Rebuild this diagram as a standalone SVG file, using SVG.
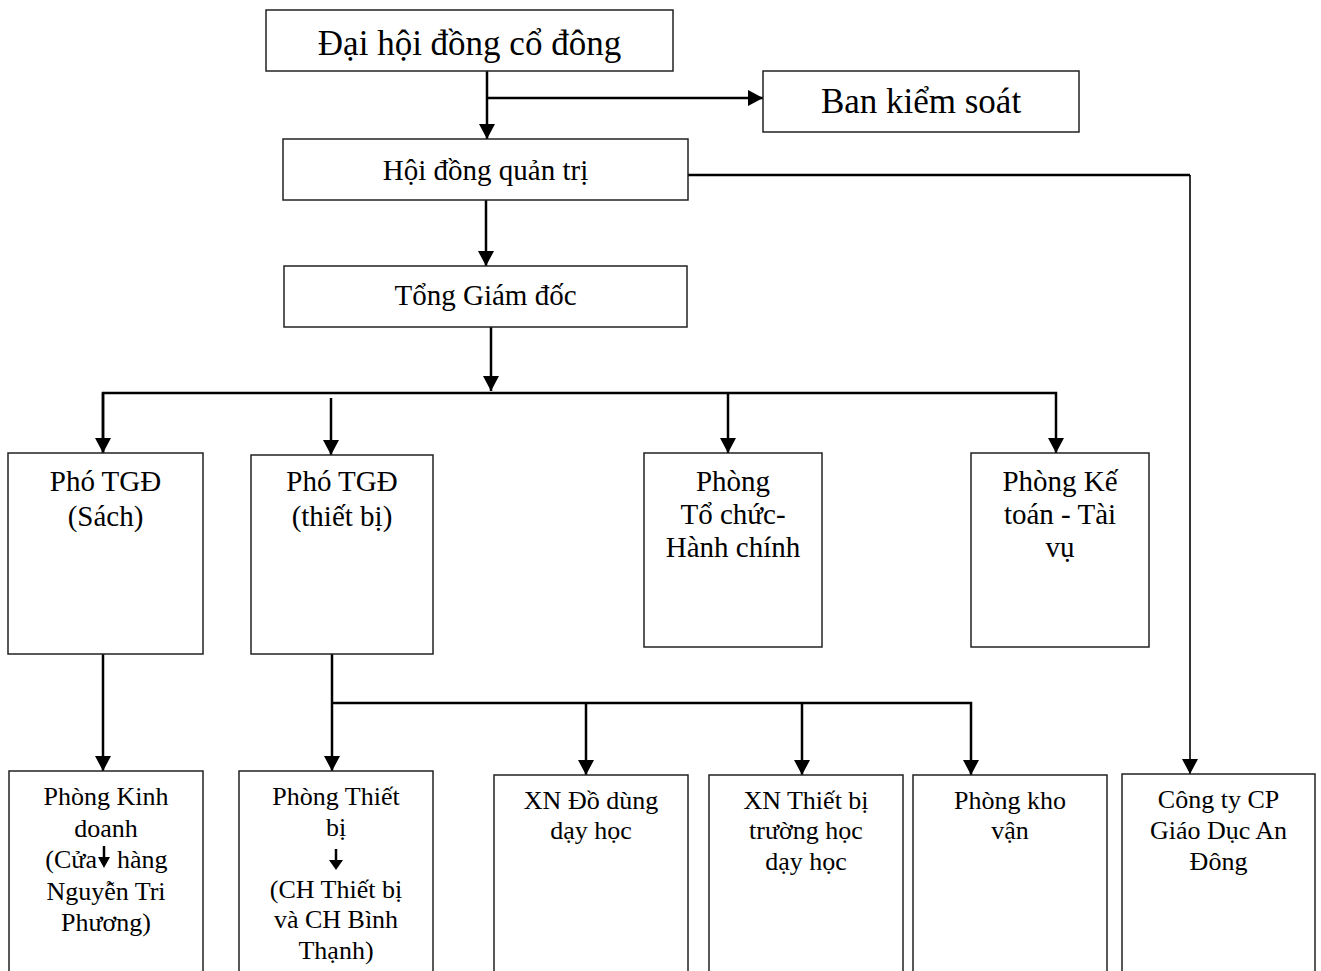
<svg xmlns="http://www.w3.org/2000/svg" width="1321" height="971" viewBox="0 0 1321 971">
<style>
.box{fill:#fff;stroke:#222;stroke-width:1.5}
.t{font-family:"Liberation Serif","Times New Roman",serif;fill:#000;text-anchor:middle}
.big{font-size:35px}
.mid{font-size:29px}
.sm{font-size:26px}
.c{fill:none;stroke:#000;stroke-width:2.5}
.ct{fill:none;stroke:#000;stroke-width:1.6}
.ia{fill:none;stroke:#000;stroke-width:2.5}
</style>
<defs>
<marker id="ah" markerUnits="userSpaceOnUse" viewBox="0 0 15 16" refX="15" refY="8" markerWidth="15" markerHeight="16" orient="auto">
<path d="M0,0 L15,8 L0,16 Z" fill="#000"/>
</marker>
</defs>
<rect width="1321" height="971" fill="#fff"/>
<g id="connectors">
<path class="c" d="M487,71 V139" marker-end="url(#ah)"/>
<path class="c" d="M487,98 H763" marker-end="url(#ah)"/>
<path class="c" d="M688,175 H1190"/>
<path class="ct" d="M1190,175 V774" marker-end="url(#ah)"/>
<path class="c" d="M486,200 V266" marker-end="url(#ah)"/>
<path class="c" d="M491,320 V391" marker-end="url(#ah)"/>
<path class="c" d="M103,453 V393 H1056 V453" marker-end="url(#ah)"/>
<path class="c" d="M103,393 V453" marker-end="url(#ah)"/>
<path class="c" d="M331,398 V455" marker-end="url(#ah)"/>
<path class="c" d="M728,393 V453" marker-end="url(#ah)"/>
<path class="c" d="M103,654 V771" marker-end="url(#ah)"/>
<path class="c" d="M332,654 V771" marker-end="url(#ah)"/>
<path class="c" d="M332,703 H971 V775" marker-end="url(#ah)"/>
<path class="c" d="M586,703 V775" marker-end="url(#ah)"/>
<path class="c" d="M802,703 V775" marker-end="url(#ah)"/>
</g>
<g id="n-dhdcd">
<rect class="box" x="266" y="10" width="407" height="61"/>
<text class="t big" x="469.5" y="55">Đại hội đồng cổ đông</text>
</g>
<g id="n-bks">
<rect class="box" x="763" y="71" width="316" height="61"/>
<text class="t big" x="921" y="113">Ban kiểm soát</text>
</g>
<g id="n-hdqt">
<rect class="box" x="283" y="139" width="405" height="61"/>
<text class="t mid" x="485.5" y="180">Hội đồng quản trị</text>
</g>
<g id="n-tgd">
<rect class="box" x="284" y="266" width="403" height="61"/>
<text class="t mid" x="485.5" y="305">Tổng Giám đốc</text>
</g>
<g id="n-pho-sach">
<rect class="box" x="8" y="453" width="195" height="201"/>
<text class="t mid" x="105.5" y="491">Phó TGĐ</text>
<text class="t mid" x="105.5" y="526">(Sách)</text>
</g>
<g id="n-pho-tb">
<rect class="box" x="251" y="455" width="182" height="199"/>
<text class="t mid" x="342" y="491">Phó TGĐ</text>
<text class="t mid" x="342" y="526">(thiết bị)</text>
</g>
<g id="n-tchc">
<rect class="box" x="644" y="453" width="178" height="194"/>
<text class="t mid" x="733" y="491">Phòng</text>
<text class="t mid" x="733" y="524">Tổ chức-</text>
<text class="t mid" x="733" y="557">Hành chính</text>
</g>
<g id="n-kttv">
<rect class="box" x="971" y="453" width="178" height="194"/>
<text class="t mid" x="1060" y="491">Phòng Kế</text>
<text class="t mid" x="1060" y="524">toán - Tài</text>
<text class="t mid" x="1060" y="557">vụ</text>
</g>
<g id="n-pkd">
<rect class="box" x="9" y="771" width="194" height="220"/>
<text class="t sm" x="106" y="805">Phòng Kinh</text>
<text class="t sm" x="106" y="836.5">doanh</text>
<text class="t sm" x="97" y="868" text-anchor="end" style="text-anchor:end">(Cửa</text>
<path class="ia" d="M104,846 V859"/>
<path d="M98,857 H110 L104,868 Z" fill="#000"/>
<text class="t sm" x="117" y="868" style="text-anchor:start">hàng</text>
<text class="t sm" x="106" y="899.5">Nguyễn Tri</text>
<text class="t sm" x="106" y="931">Phương)</text>
</g>
<g id="n-ptb">
<rect class="box" x="239" y="771" width="194" height="220"/>
<text class="t sm" x="336" y="805">Phòng Thiết</text>
<text class="t sm" x="336" y="836">bị</text>
<path class="ia" d="M336,849 V862"/>
<path d="M329,860 H343 L336,870 Z" fill="#000"/>
<text class="t sm" x="336" y="898">(CH Thiết bị</text>
<text class="t sm" x="336" y="928">và CH Bình</text>
<text class="t sm" x="336" y="959">Thạnh)</text>
</g>
<g id="n-xndd">
<rect class="box" x="494" y="775" width="194" height="216"/>
<text class="t sm" x="591" y="809">XN Đồ dùng</text>
<text class="t sm" x="591" y="839">dạy học</text>
</g>
<g id="n-xntb">
<rect class="box" x="709" y="775" width="194" height="216"/>
<text class="t sm" x="806" y="809">XN Thiết bị</text>
<text class="t sm" x="806" y="839">trường học</text>
<text class="t sm" x="806" y="870">dạy học</text>
</g>
<g id="n-pkv">
<rect class="box" x="913" y="775" width="194" height="216"/>
<text class="t sm" x="1010" y="809">Phòng kho</text>
<text class="t sm" x="1010" y="839">vận</text>
</g>
<g id="n-cty">
<rect class="box" x="1122" y="774" width="193" height="217"/>
<text class="t sm" x="1218.5" y="808">Công ty CP</text>
<text class="t sm" x="1218.5" y="839">Giáo Dục An</text>
<text class="t sm" x="1218.5" y="870">Đông</text>
</g>
</svg>
